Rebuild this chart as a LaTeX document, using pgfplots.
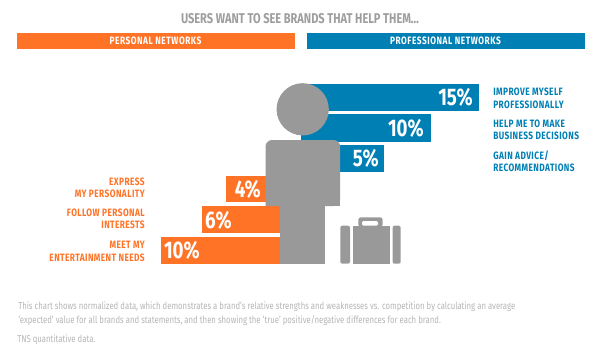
\documentclass[border=0pt]{standalone}
\usepackage{pgfplots}
\pgfplotsset{compat=1.18}
\usepackage{fontspec}
\setmainfont[FakeStretch=0.78]{Fira Sans}
\definecolor{org}{HTML}{FF7327}
\definecolor{blu}{HTML}{007FB4}
\definecolor{gry}{HTML}{999999}
\definecolor{ttl}{HTML}{9E9E9E}
\definecolor{note}{HTML}{B5B5B5}
\begin{document}
\begin{tikzpicture}
\useasboundingbox (0,0) rectangle (450pt,265.5pt);
\begin{axis}[at={(0,0)},anchor=south west,scale only axis,width=450pt,height=265.5pt,
  xmin=0,xmax=600,ymin=0,ymax=354,y dir=reverse,hide axis,clip=false]
% header bands
\addplot[draw=none,fill=org] coordinates {(16.5,32.5)(294.5,32.5)(294.5,48.5)(16.5,48.5)} -- cycle;
\addplot[draw=none,fill=blu] coordinates {(306.5,32.5)(585,32.5)(585,48.5)(306.5,48.5)} -- cycle;
% blue bars
\addplot[draw=none,fill=blu] coordinates {(301,83.5)(479,83.5)(479,110.7)(301,110.7)} -- cycle;
\addplot[draw=none,fill=blu] coordinates {(301,114)(430.7,114)(430.7,141.5)(301,141.5)} -- cycle;
\addplot[draw=none,fill=blu] coordinates {(301,145)(384,145)(384,171.7)(301,171.7)} -- cycle;
% orange bars
\addplot[draw=none,fill=org] coordinates {(226.3,175.7)(266,175.7)(266,202.3)(226.3,202.3)} -- cycle;
\addplot[draw=none,fill=org] coordinates {(201.7,206.3)(281,206.3)(281,233)(201.7,233)} -- cycle;
\addplot[draw=none,fill=org] coordinates {(160.7,236.7)(281,236.7)(281,263.7)(160.7,263.7)} -- cycle;
% person
\fill[gry] (axis cs:302.7,109.3) circle[radius=19.6pt];
\fill[gry,rounded corners=5pt] (axis cs:265.5,206) -- (axis cs:265.5,140) -- (axis cs:340.2,140) -- (axis cs:340.2,206) [sharp corners] -- cycle;
\fill[gry] (axis cs:265.5,150) rectangle (axis cs:340.2,206);
\fill[gry] (axis cs:280.3,206) rectangle (axis cs:325,263.7);
% briefcase
\fill[gry,rounded corners=1.5pt] (axis cs:340.3,225.7) rectangle (axis cs:350,263.7);
\fill[gry] (axis cs:352.7,225.7) rectangle (axis cs:390,263.7);
\fill[gry,rounded corners=1.5pt] (axis cs:392.7,225.7) rectangle (axis cs:400.7,263.7);
\fill[gry,rounded corners=2pt] (axis cs:358.3,227) -- (axis cs:358.3,217.3) -- (axis cs:382.7,217.3) -- (axis cs:382.7,227) -- cycle;
\fill[white,rounded corners=1pt] (axis cs:362,225.7) -- (axis cs:362,221) -- (axis cs:378,221) -- (axis cs:378,225.7) -- cycle;
% texts
\node[text=ttl,font=\bfseries\fontsize{10.6pt}{12pt}\selectfont] at (axis cs:300,19) {USERS WANT TO SEE BRANDS THAT HELP THEM\dots};
\node[text=white,font=\bfseries\fontsize{8pt}{9pt}\selectfont\addfontfeature{LetterSpace=5}] at (axis cs:155.5,40.5) {PERSONAL NETWORKS};
\node[text=white,font=\bfseries\fontsize{8pt}{9pt}\selectfont\addfontfeature{LetterSpace=5}] at (axis cs:445.5,40.5) {PROFESSIONAL NETWORKS};
% values
\tikzset{val/.style={text=white,font=\bfseries\fontsize{18pt}{20pt}\selectfont,inner sep=0pt}}
\node[val,anchor=east] at (axis cs:473,97.5) {15\%};
\node[val,anchor=east] at (axis cs:424,128) {10\%};
\node[val,anchor=east] at (axis cs:379,158.5) {5\%};
\node[val,anchor=east] at (axis cs:261,189.5) {4\%};
\node[val,anchor=east] at (axis cs:232,220) {6\%};
\node[val,anchor=east] at (axis cs:200,250.5) {10\%};
% labels
\tikzset{bl/.style={text=blu,font=\bfseries\fontsize{8pt}{9.3pt}\selectfont\addfontfeature{LetterSpace=4},align=left,anchor=west,inner sep=0pt},
 ol/.style={text=org,font=\bfseries\fontsize{8pt}{9.3pt}\selectfont\addfontfeature{LetterSpace=4},align=right,anchor=east,inner sep=0pt}}
\node[bl] at (axis cs:493,98.5) {IMPROVE MYSELF\\PROFESSIONALLY};
\node[bl] at (axis cs:493,130) {HELP ME TO MAKE\\BUSINESS DECISIONS};
\node[bl] at (axis cs:493,161) {GAIN ADVICE/\\RECOMMENDATIONS};
\node[ol] at (axis cs:145,188) {EXPRESS\\MY PERSONALITY};
\node[ol] at (axis cs:145,219) {FOLLOW PERSONAL\\INTERESTS};
\node[ol] at (axis cs:145,251.5) {MEET MY\\ENTERTAINMENT NEEDS};
% notes
\node[text=note,font=\fontsize{7.45pt}{10.4pt}\selectfont,align=left,anchor=north west,inner sep=0pt] at (axis cs:18,301.5) {This chart shows normalized data, which demonstrates a brand's relative strengths and weaknesses vs. competition by calculating an average\\`expected' value for all brands and statements, and then showing the `true' positive/negative differences for each brand.};
\node[text=note,font=\fontsize{7.45pt}{10.4pt}\selectfont,anchor=north west,inner sep=0pt] at (axis cs:17,334.5) {TNS quantitative data.};
\end{axis}
\end{tikzpicture}
\end{document}
